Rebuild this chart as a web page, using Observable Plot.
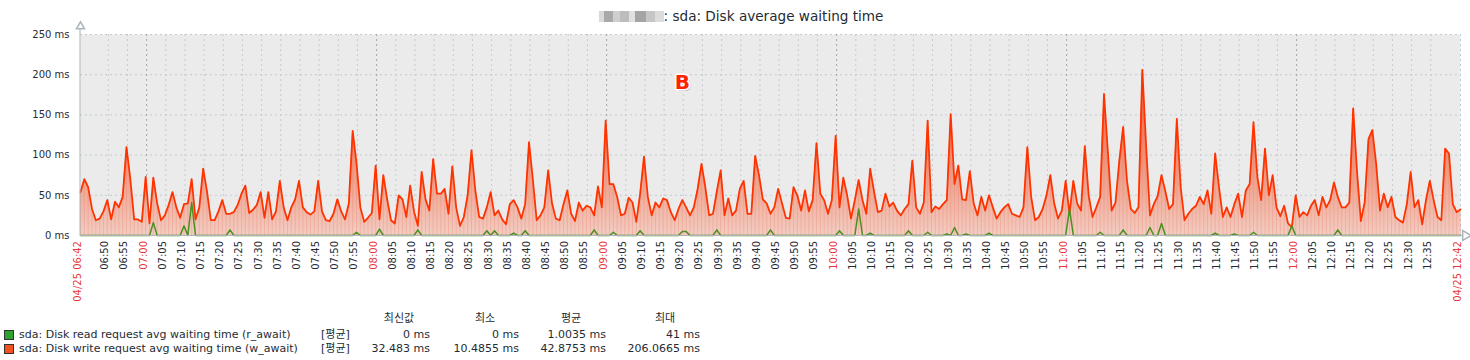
<!DOCTYPE html>
<html><head><meta charset="utf-8">
<script src="https://cdn.jsdelivr.net/npm/d3@7"></script>
<script src="https://cdn.jsdelivr.net/npm/@observablehq/plot@0.6"></script>
<style>
body{margin:0;background:#fff;font-family:"DejaVu Sans","Noto Sans CJK KR",sans-serif;}
#wrap{position:relative;width:1470px;height:360px;overflow:hidden;background:#fff;}
#chart{position:absolute;left:0;top:0;}
#title{position:absolute;left:6px;top:0;width:1470px;text-align:center;font-size:13.6px;line-height:20px;padding-top:6px;color:#1f2c33;white-space:nowrap;}
.mosaic{display:inline-block;width:65px;height:11px;vertical-align:-1px;
 background:linear-gradient(to right,#d9d9d9 0 8%,#a9a9a9 8% 22%,#cfcfcf 22% 32%,#bdbdbd 32% 46%,#e0e0e0 46% 55%,#a5a5a5 55% 72%,#c6c6c6 72% 86%,#dcdcdc 86% 100%);}
.lg{position:absolute;font-size:11px;line-height:13px;color:#1f2c33;white-space:nowrap;font-family:"DejaVu Sans","Noto Sans CJK KR",sans-serif;}
.sq{position:absolute;width:8px;height:8px;border:1px solid #333;}
</style></head><body>
<div id="wrap"><div id="chart"></div><div id="title"><span class="mosaic"></span>: sda: Disk average waiting time</div><div id="legend"></div></div>
<script>
// ---------- data ----------
const startTime = "2024-04-25T06:42:45Z";
const stepMinutes = 1;
const writeAwait = [
54,70,60,33,19,21,30,44,20,42,35,48,110,70,20,20,17,73,15,72,
40,19,25,38,54,35,22,39,40,70,20,35,83,55,19,19,30,44,27,27,
29,38,52,62,28,32,38,54,22,54,20,30,68,35,19,35,45,68,35,29,
26,30,68,30,19,18,27,45,30,20,40,130,90,35,17,22,28,87,20,75,
45,19,15,50,45,23,62,30,12,79,45,31,95,52,52,58,27,86,35,12,
23,50,106,56,23,21,35,54,25,31,20,14,39,44,35,21,39,116,70,19,
25,35,81,40,21,19,39,56,27,18,41,31,37,35,25,61,35,143,64,64,
48,25,27,47,41,17,52,98,48,25,41,35,46,44,29,19,33,44,35,25,
35,58,89,60,25,27,55,81,25,46,25,31,58,68,27,27,99,75,45,40,
27,35,58,40,22,21,60,50,31,56,30,44,115,52,44,27,44,124,35,72,
50,21,44,69,44,27,83,55,29,31,52,36,41,31,25,33,39,93,35,27,
41,143,29,36,33,39,44,151,64,87,45,44,80,40,25,48,31,50,35,21,
29,35,39,27,25,23,35,110,48,19,23,33,50,75,40,21,31,68,27,68,
40,31,111,50,23,35,48,176,105,31,41,93,135,68,33,28,35,206.0665,110,25,
39,49,75,55,33,39,145,60,19,27,33,37,48,39,56,27,102,60,23,35,
23,39,52,23,56,64,141,73,44,108,50,75,35,24,37,15,10.4855,50,23,29,
25,37,44,25,48,35,44,66,48,35,35,41,158,80,18,41,120,131,89,31,
52,35,48,23,19,16,39,79,35,44,14,44,68,44,23,19,108,102,39,29,
32.483];
const readSpikeMinute = [19,27,29,39,72,78,88,106,108,113,116,134,139,146,157,158,166,180,198,203,206,216,221,226,228,231,237,258,266,272,279,282,296,301,306,316,328];
const readSpikeValue  = [16,12,41,7,4,8,7,6,6,3,6,7,4,6,5,5,7,7,6,33,3,6,4,2,10,2,3,33,4,7,10,15,3,2,4,12,7];
const xTickLabels = ["06:50","06:55",
"07:00","07:05","07:10","07:15","07:20","07:25","07:30","07:35","07:40","07:45","07:50","07:55",
"08:00","08:05","08:10","08:15","08:20","08:25","08:30","08:35","08:40","08:45","08:50","08:55",
"09:00","09:05","09:10","09:15","09:20","09:25","09:30","09:35","09:40","09:45","09:50","09:55",
"10:00","10:05","10:10","10:15","10:20","10:25","10:30","10:35","10:40","10:45","10:50","10:55",
"11:00","11:05","11:10","11:15","11:20","11:25","11:30","11:35","11:40","11:45","11:50","11:55",
"12:00","12:05","12:10","12:15","12:20","12:25","12:30","12:35"];
const edgeLabels = ["04/25 06:42","04/25 12:42"];
const yTicks = [0,50,100,150,200,250];
const markerLabel = "B";
const markerTime = "2024-04-25T09:19:45Z";
const markerValue = 190;
const seriesNames = ["sda: Disk read request avg waiting time (r_await)","sda: Disk write request avg waiting time (w_await)"];
const seriesFunc = "[평균]";
const statHeaders = ["최신값","최소","평균","최대"];
const readStats = ["0 ms","0 ms","1.0035 ms","41 ms"];
const writeStats = ["32.483 ms","10.4855 ms","42.8753 ms","206.0665 ms"];

// ---------- build ----------
const t0 = new Date(startTime);
const totalMinutes = (writeAwait.length - 1) * stepMinutes;
const tEnd = new Date(t0.getTime() + totalMinutes * 60000);
const tAt = i => new Date(t0.getTime() + i * stepMinutes * 60000);
const writeData = writeAwait.map((v, i) => ({t: tAt(i), v}));
const readAwait = writeAwait.map(() => 0);
readSpikeMinute.forEach((m, j) => { readAwait[m] = readSpikeValue[j]; });
const readData = readAwait.map((v, i) => ({t: tAt(i), v}));
const tickData = xTickLabels.map(s => ({t: new Date(`2024-04-25T${s}:00Z`), label: s, hour: s.endsWith(":00")}));
const edgeData = [{t: t0, label: edgeLabels[0]}, {t: tEnd, label: edgeLabels[1]}];

const axisGray = "#aab4ba";
const chart = Plot.plot({
  width: 1470, height: 314,
  marginTop: 34, marginBottom: 79, marginLeft: 80, marginRight: 10,
  x: {type: "utc", domain: [t0, tEnd], axis: null},
  y: {domain: [0, 250], axis: null},
  style: {fontFamily: "DejaVu Sans, sans-serif", fontSize: "10px", background: "transparent", overflow: "visible"},
  marks: [
    Plot.frame({fill: "#ebebeb", stroke: "none"}),
    Plot.ruleY(yTicks.filter(d => d > 0), {stroke: "#c3cbd0", strokeDasharray: "2,3"}),
    Plot.ruleX(tickData.filter(d => !d.hour), {x: "t", stroke: "#c3cbd0", strokeDasharray: "2,3"}),
    Plot.ruleX([tEnd], {stroke: "#c3cbd0", strokeDasharray: "2,3"}),
    Plot.ruleX(tickData.filter(d => d.hour), {x: "t", stroke: "#9fa4a7", strokeDasharray: "2,3"}),
    Plot.areaY(writeData, {x: "t", y: "v", fill: "url(#wgrad)"}),
    Plot.ruleX(writeData, {x: "t", y1: 0, y2: "v", stroke: "#e8826c", strokeOpacity: 0.32}),
    Plot.lineY(writeData, {x: "t", y: "v", stroke: "#ff3300", strokeWidth: 1.8}),
    Plot.lineY(readData, {x: "t", y: "v", stroke: "#4a8f21", strokeWidth: 1.5}),
    Plot.ruleX([t0], {stroke: axisGray, insetTop: -5, dx: -0.5}),
    Plot.ruleY([0], {stroke: axisGray, insetRight: -3}),
    Plot.dot([{t: t0, v: 250}], {x: "t", y: "v", dy: -8, symbol: "triangle", r: 3, fill: "white", stroke: axisGray}),
    Plot.dot([{t: tEnd, v: 0}], {x: "t", y: "v", dx: 5, rotate: 90, symbol: "triangle", r: 3.6, fill: "white", stroke: axisGray}),
    Plot.text(yTicks, {y: d => d, text: d => `${d} ms`, frameAnchor: "left", dx: -11, textAnchor: "end", fill: "#1f2c33"}),
    Plot.text(tickData, {x: "t", text: "label", frameAnchor: "bottom", dy: 5.5, rotate: -90, textAnchor: "end", fill: d => d.hour ? "#e8393c" : "#1f2c33"}),
    Plot.text(edgeData, {x: "t", text: "label", frameAnchor: "bottom", dy: 5.5, rotate: -90, textAnchor: "end", fill: "#e8393c"}),
    Plot.text([{t: new Date(markerTime), v: markerValue}], {x: "t", y: "v", text: () => markerLabel, dx: 1.5, dy: 1.5, fontSize: 20, fontWeight: "bold", fill: "#8a8a8a", fillOpacity: 0.5}),
    Plot.text([{t: new Date(markerTime), v: markerValue}], {x: "t", y: "v", text: () => markerLabel, fontSize: 20, fontWeight: "bold", fill: "#ff2200", stroke: "white", strokeWidth: 3, paintOrder: "stroke"})
  ]
});
// gradient for the filled area, placed from the y scale
const ys = chart.scale("y");
const yTop = ys.apply(250), yBot = ys.apply(0);
const ns = "http://www.w3.org/2000/svg";
const defs = document.createElementNS(ns, "defs");
const grad = document.createElementNS(ns, "linearGradient");
grad.setAttribute("id", "wgrad");
grad.setAttribute("gradientUnits", "userSpaceOnUse");
grad.setAttribute("x1", 0); grad.setAttribute("x2", 0);
grad.setAttribute("y1", yTop); grad.setAttribute("y2", yBot);
[["0%", "#e24a2a"], ["40%", "#ea7458"], ["60%", "#ee8f76"], ["80%", "#f0ac9a"], ["100%", "#f3cdc3"]].forEach(([o, c]) => {
  const s = document.createElementNS(ns, "stop");
  s.setAttribute("offset", o); s.setAttribute("stop-color", c);
  grad.appendChild(s);
});
defs.appendChild(grad);
chart.insertBefore(defs, chart.firstChild);
document.getElementById("chart").appendChild(chart);

// ---------- legend ----------
const lg = document.getElementById("legend");
function put(text, css) {
  const s = document.createElement("div");
  s.className = "lg"; s.textContent = text;
  Object.assign(s.style, css);
  lg.appendChild(s);
}
const headerCenters = [399, 485, 571, 665];
const valueRights = [430, 519, 606, 700];
statHeaders.forEach((h, i) => put(h, {left: (headerCenters[i] - 40) + "px", width: "80px", textAlign: "center", top: "312px"}));
const rows = [{name: seriesNames[0], stats: readStats, color: "#2ea12e", top: 328},
              {name: seriesNames[1], stats: writeStats, color: "#f4511e", top: 342}];
rows.forEach(r => {
  const sq = document.createElement("div");
  sq.className = "sq"; sq.style.left = "4px"; sq.style.top = (r.top + 2) + "px"; sq.style.background = r.color;
  lg.appendChild(sq);
  put(r.name, {left: "19px", top: r.top + "px"});
  put(seriesFunc, {left: "321px", top: r.top + "px"});
  r.stats.forEach((v, i) => put(v, {left: (valueRights[i] - 120) + "px", width: "120px", textAlign: "right", top: r.top + "px"}));
});
</script>
</body></html>
